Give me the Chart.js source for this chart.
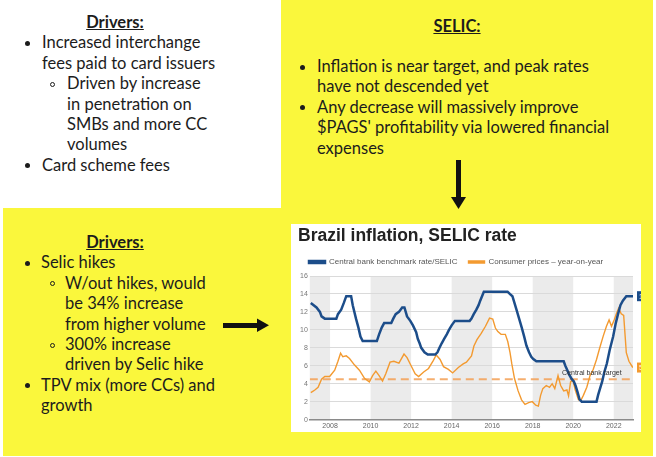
<!DOCTYPE html>
<html>
<head>
<meta charset="utf-8">
<script src="https://cdn.jsdelivr.net/npm/chart.js"></script>
<style>
  body { margin:0; width:656px; height:457px; position:relative; overflow:hidden; background:#fff;
         font-family:Lato, sans-serif; color:#1c1c1c; }
  .yel { position:absolute; background:#faf73c; }
  .blk { position:absolute; font-size:16.5px; line-height:20.4px; white-space:nowrap; }
  .hd { font-weight:bold; text-decoration:underline; text-align:center; }
  .l1, .l2 { position:relative; }
  .l1::before, .l2::before { content:''; position:absolute; left:var(--b); top:8.5px; width:5px; height:5px;
                             border-radius:50%; box-sizing:border-box; }
  .l1::before { background:#1c1c1c; }
  .l2::before { border:1.2px solid #1c1c1c; }
  #panel { position:absolute; left:291px; top:224px; width:350px; height:208px; background:#fff; }
</style>
</head>
<body>
<div class="yel" style="left:281px;top:0;width:372px;height:456px"></div>
<div class="yel" style="left:3px;top:208px;width:280px;height:248px"></div>

<!-- top left: interchange drivers -->
<div class="blk" style="left:0;top:12px;width:230px">
  <div class="hd">Drivers:</div>
  <div class="l1" style="padding-left:42px;--b:25px">Increased interchange<br>fees paid to card issuers</div>
  <div class="l2" style="padding-left:67px;--b:50px">Driven by increase<br>in penetration on<br>SMBs and more CC<br>volumes</div>
  <div class="l1" style="padding-left:42px;--b:25px">Card scheme fees</div>
</div>

<!-- top right: SELIC -->
<div class="blk" style="left:281px;top:16px;width:352px">
  <div class="hd">SELIC:</div>
</div>
<div class="blk" style="left:281px;top:56px;width:372px">
  <div class="l1" style="padding-left:36px;--b:19px">Inflation is near target, and peak rates<br>have not descended yet</div>
  <div class="l1" style="padding-left:36px;--b:19px">Any decrease will massively improve<br>$PAGS' profitability via lowered financial<br>expenses</div>
</div>

<!-- bottom left: financial expense drivers -->
<div class="blk" style="left:0;top:232px;width:230px">
  <div class="hd">Drivers:</div>
  <div class="l1" style="padding-left:41px;--b:25px">Selic hikes</div>
  <div class="l2" style="padding-left:65px;--b:50px">W/out hikes, would<br>be 34% increase<br>from higher volume</div>
  <div class="l2" style="padding-left:65px;--b:50px">300% increase<br>driven by Selic hike</div>
  <div class="l1" style="padding-left:41px;--b:25px">TPV mix (more CCs) and<br>growth</div>
</div>

<svg style="position:absolute;left:0;top:0" width="656" height="457">
  <rect x="456" y="160" width="5" height="39" fill="#111"/>
  <polygon points="451,197 466,197 458.5,209" fill="#111"/>
  <rect x="223" y="323" width="36" height="5" fill="#111"/>
  <polygon points="257,318.5 257,332 269,325.3" fill="#111"/>
</svg>

<div id="panel"><canvas id="myChart" width="350" height="208"></canvas></div>

<script>
// SELIC benchmark rate (decimal year, %)
const selicYears = [2007.05, 2007.33, 2007.5, 2007.58, 2007.74, 2008.31, 2008.39, 2008.55, 2008.68, 2008.8,
  2009.04, 2009.12, 2009.28, 2009.4, 2009.5, 2009.61, 2010.31, 2010.42, 2010.55, 2010.67,
  2011.02, 2011.12, 2011.24, 2011.4, 2011.56, 2011.67, 2011.8, 2011.96, 2012.09, 2012.25,
  2012.33, 2012.42, 2012.5, 2012.66, 2012.82, 2013.19, 2013.3, 2013.4, 2013.51, 2013.63,
  2013.76, 2013.87, 2014.0, 2014.16, 2014.89, 2014.98, 2015.09, 2015.22, 2015.33, 2015.41,
  2015.5, 2015.59, 2016.76, 2016.87, 2017.0, 2017.1, 2017.2, 2017.33, 2017.46, 2017.58,
  2017.69, 2017.82, 2017.93, 2018.03, 2018.18, 2019.53, 2019.61, 2019.71, 2019.8, 2019.93,
  2020.03, 2020.12, 2020.22, 2020.31, 2020.42, 2021.15, 2021.23, 2021.33, 2021.43, 2021.53,
  2021.66, 2021.8, 2021.97, 2022.1, 2022.21, 2022.33, 2022.45, 2022.62, 2022.95];
const selicRates = [13.0, 12.5, 12.0, 11.5, 11.25, 11.25, 11.75, 12.25, 13.0, 13.75,
  13.75, 12.75, 11.25, 10.25, 9.25, 8.75, 8.75, 9.5, 10.25, 10.75,
  10.75, 11.25, 11.75, 12.0, 12.5, 12.5, 11.5, 11.0, 10.5, 9.75,
  9.0, 8.5, 8.0, 7.5, 7.25, 7.25, 7.5, 8.0, 8.5, 9.0,
  9.5, 10.0, 10.5, 11.0, 11.0, 11.25, 11.75, 12.25, 12.75, 13.25,
  13.75, 14.25, 14.25, 14.0, 13.75, 13.0, 12.25, 11.25, 10.25, 9.25,
  8.25, 7.5, 7.0, 6.75, 6.5, 6.5, 6.0, 5.5, 5.0, 4.5,
  4.25, 3.75, 3.0, 2.25, 2.0, 2.0, 2.75, 3.5, 4.25, 5.25,
  6.25, 7.75, 9.25, 10.75, 11.75, 12.75, 13.25, 13.75, 13.75];

// consumer prices, year-on-year (decimal year, %)
const cpiYears = [2007.05, 2007.25, 2007.41, 2007.58, 2007.74, 2007.98, 2008.23, 2008.39, 2008.52, 2008.63,
  2008.8, 2008.96, 2009.2, 2009.45, 2009.7, 2009.94, 2010.1, 2010.26, 2010.42, 2010.59,
  2010.75, 2010.96, 2011.15, 2011.4, 2011.65, 2011.8, 2012.0, 2012.2, 2012.37, 2012.62,
  2012.86, 2013.1, 2013.24, 2013.43, 2013.6, 2013.84, 2014.05, 2014.33, 2014.57, 2014.73,
  2014.98, 2015.1, 2015.25, 2015.46, 2015.67, 2015.87, 2016.03, 2016.16, 2016.28, 2016.44,
  2016.65, 2016.77, 2016.88, 2016.97, 2017.1, 2017.28, 2017.45, 2017.62, 2017.8, 2017.98,
  2018.15, 2018.28, 2018.39, 2018.5, 2018.67, 2018.83, 2018.96, 2019.09, 2019.25, 2019.38,
  2019.53, 2019.69, 2019.77, 2019.87, 2019.98, 2020.1, 2020.26, 2020.39, 2020.5, 2020.67,
  2020.83, 2020.99, 2021.15, 2021.31, 2021.48, 2021.64, 2021.77, 2021.89, 2022.02, 2022.13,
  2022.24, 2022.37, 2022.49, 2022.62, 2022.75, 2022.94];
const cpiRates = [3.0, 3.3, 3.6, 4.5, 4.8, 4.8, 5.5, 6.5, 7.4, 7.0,
  7.1, 6.8, 6.1, 5.5, 4.6, 4.2, 4.9, 5.4, 4.9, 4.3,
  5.1, 6.4, 6.5, 6.3, 7.3, 6.9, 6.0, 5.1, 4.8, 5.3,
  5.7, 6.6, 7.2, 6.7, 5.9, 5.6, 5.2, 5.8, 6.2, 6.4,
  7.1, 8.2, 8.9, 9.6, 10.4, 11.3, 11.2, 10.2, 9.8, 9.5,
  9.5, 8.7, 7.5, 6.2, 4.6, 3.2, 2.2, 1.7, 1.9, 2.0,
  1.6, 1.5, 2.7, 3.45, 3.8, 3.6, 4.0, 3.45, 4.9, 3.8,
  3.2, 3.3, 2.65, 4.2, 4.4, 3.3, 2.2, 2.2, 2.7, 3.6,
  4.9, 5.6, 6.7, 8.0, 9.3, 10.4, 11.1, 10.4, 11.1, 11.8,
  12.4, 11.8, 11.6, 7.45, 6.5, 5.8];

// central bank target line
const targetYears = [2007, 2022.95];
const targetRates = [4.5, 4.5];
const targetLabel = 'Central bank target';
const targetLabelYear = 2019.45;

const xTickYears = [2008, 2010, 2012, 2014, 2016, 2018, 2020, 2022];
const yTickValues = [0, 2, 4, 6, 8, 10, 12, 14, 16];
const shadedSpans = [[2007, 2008], [2010, 2012], [2014, 2016], [2018, 2020], [2022, 2023]];

const BLUE = '#1c4d8a';
const ORANGE = '#f39a30';

function toPoints(xs, ys) {
  return xs.map((x, i) => ({x: x, y: ys[i]}));
}

// alternating grey year bands behind the plot
const bandsPlugin = {
  id: 'bands',
  beforeDraw(chart) {
    const c = chart.ctx, a = chart.chartArea, xs = chart.scales.x;
    c.save();
    c.fillStyle = '#ebebeb';
    shadedSpans.forEach(s => {
      const x0 = Math.max(a.left, xs.getPixelForValue(s[0]));
      const x1 = Math.min(a.right, xs.getPixelForValue(s[1]));
      if (x1 > x0) c.fillRect(x0, a.top, x1 - x0, a.bottom - a.top);
    });
    c.restore();
  }
};

// target caption and the last-value boxes at the right edge
const labelsPlugin = {
  id: 'labels',
  afterDatasetsDraw(chart) {
    const c = chart.ctx, a = chart.chartArea, xs = chart.scales.x, ys = chart.scales.y;
    c.save();
    c.font = '7px "Liberation Sans", Arial, sans-serif';
    c.fillStyle = '#333';
    c.textBaseline = 'bottom';
    c.fillText(targetLabel, xs.getPixelForValue(targetLabelYear), ys.getPixelForValue(targetRates[0]) - 3);
    const ends = [[selicRates[selicRates.length - 1], BLUE, '13.75'], [cpiRates[cpiRates.length - 1], ORANGE, '5.8']];
    c.textBaseline = 'middle';
    ends.forEach(e => {
      const y = ys.getPixelForValue(e[0]);
      c.fillStyle = e[1];
      c.fillRect(a.right + 4, y - 5, 22, 10);
      c.fillStyle = '#fff';
      c.fillText(e[2], a.right + 6, y + 0.5);
    });
    c.restore();
  }
};

Chart.defaults.font.family = '"Liberation Sans", Arial, sans-serif';

let myChart = document.getElementById('myChart').getContext('2d');
let inflationChart = new Chart(myChart, {
  type: 'line',
  data: {
    datasets: [
      {
        label: 'Central bank benchmark rate/SELIC',
        data: toPoints(selicYears, selicRates),
        borderColor: BLUE,
        backgroundColor: BLUE,
        borderWidth: 2.5,
        pointRadius: 0
      },
      {
        label: 'Consumer prices \u2013 year-on-year',
        data: toPoints(cpiYears, cpiRates),
        borderColor: ORANGE,
        backgroundColor: ORANGE,
        borderWidth: 1.4,
        pointRadius: 0
      },
      {
        label: 'target',
        data: toPoints(targetYears, targetRates),
        borderColor: 'rgba(243,160,85,0.85)',
        backgroundColor: 'rgba(243,160,85,0.85)',
        borderWidth: 2,
        borderDash: [8, 5],
        pointRadius: 0
      }
    ]
  },
  options: {
    responsive: false,
    animation: false,
    layout: { padding: { left: 7, right: 8, top: 0, bottom: 0 } },
    scales: {
      x: {
        type: 'linear',
        min: 2007,
        max: 2022.95,
        afterBuildTicks: s => { s.ticks = xTickYears.map(v => ({value: v})); },
        grid: { display: false, drawTicks: false },
        border: { display: true, color: '#8a8a8a', width: 1.5 },
        ticks: { font: { size: 7 }, color: '#666', padding: 2, maxRotation: 0, autoSkip: false,
                 callback: v => String(v) }
      },
      y: {
        min: 0,
        max: 16,
        afterBuildTicks: s => { s.ticks = yTickValues.map(v => ({value: v})); },
        grid: { color: '#dadada', drawTicks: false },
        border: { display: false },
        ticks: { font: { size: 7 }, color: '#777', padding: 2 }
      }
    },
    plugins: {
      title: {
        display: true,
        text: 'Brazil inflation, SELIC rate',
        align: 'start',
        color: '#222',
        font: { size: 17.5, weight: 'bold' },
        padding: { top: 2, bottom: 0 }
      },
      legend: {
        align: 'start',
        labels: {
          boxWidth: 16,
          boxHeight: 2,
          padding: 11,
          color: '#555',
          font: { size: 8 },
          filter: item => item.datasetIndex < 2
        }
      },
      tooltip: { enabled: false }
    }
  },
  plugins: [bandsPlugin, labelsPlugin]
});
</script>
</body>
</html>
